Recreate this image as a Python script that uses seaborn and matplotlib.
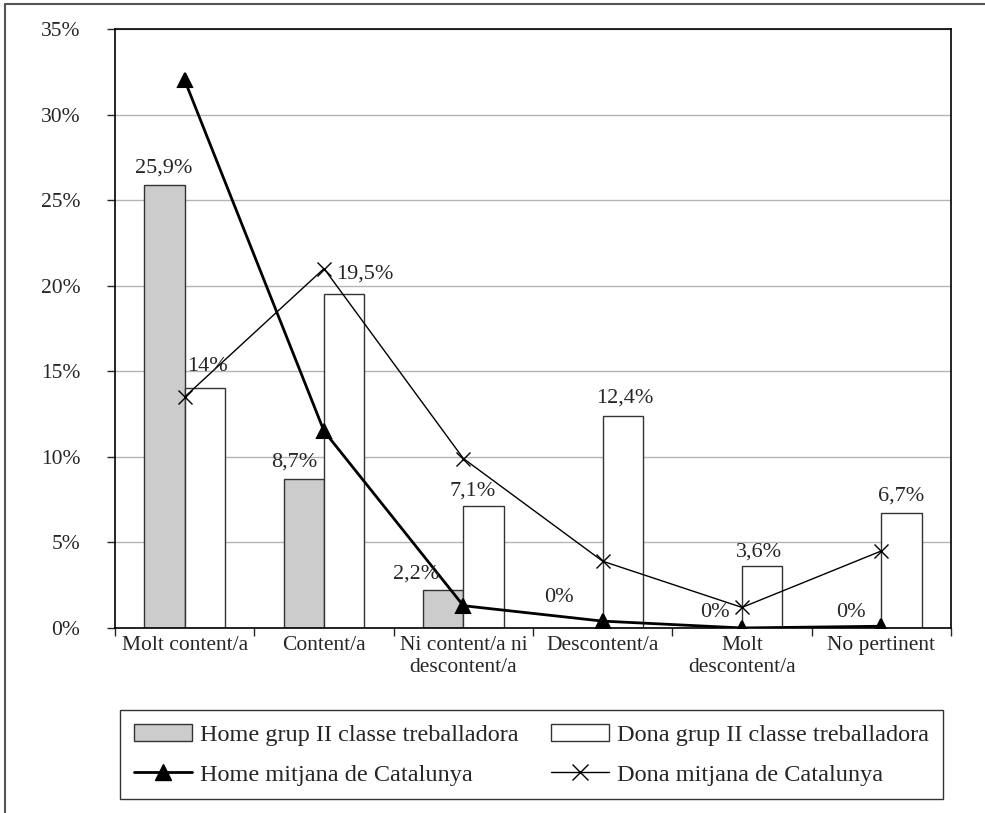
import numpy as np
import pandas as pd
import seaborn as sns
import matplotlib.pyplot as plt
from matplotlib.patches import Patch
from matplotlib.lines import Line2D

# Data (percentages)
categories = ["Molt content/a", "Content/a", "Ni content/a ni\ndescontent/a",
              "Descontent/a", "Molt\ndescontent/a", "No pertinent"]
home_grup = [25.9, 8.7, 2.2, 0.0, 0.0, 0.0]
dona_grup = [14.0, 19.5, 7.1, 12.4, 3.6, 6.7]
home_cat = [32.0, 11.5, 1.3, 0.4, 0.0, 0.1]
dona_cat = [13.5, 21.0, 9.9, 3.9, 1.2, 4.5]
series_names = ["Home grup II classe treballadora", "Dona grup II classe treballadora",
                "Home mitjana de Catalunya", "Dona mitjana de Catalunya"]

sns.set_style("white")
plt.rcParams['font.family'] = ['Liberation Serif', 'DejaVu Serif']
plt.rcParams['font.size'] = 15.5

bars = pd.DataFrame({
    'cat': categories * 2,
    'value': home_grup + dona_grup,
    'group': [series_names[0]] * 6 + [series_names[1]] * 6,
})

fig = plt.figure(figsize=(9.85, 8.13), dpi=100)
ax = fig.add_axes([0.1168, 0.2276, 0.8487, 0.7368])

sns.barplot(data=bars, x='cat', y='value', hue='group', order=categories,
            palette=['#cccccc', 'white'], width=0.58, gap=0, edgecolor='#333333',
            linewidth=1, ax=ax, legend=False, zorder=2)

sns.pointplot(x=categories, y=home_cat, order=categories, color='black', marker='^',
              markersize=10, linewidth=2.0, errorbar=None, ax=ax, zorder=4)
sns.pointplot(x=categories, y=dona_cat, order=categories, color='black', marker='x',
              markersize=10, markeredgewidth=1.0, linewidth=1.0, errorbar=None, ax=ax, zorder=3)

# value labels above the bars (pixel offsets, style only)
label_dx = [[-1, -10, -27, -24, -7, -10], [3, 21, -11, 2, -3, 0]]
label_dy = [[17, 17, 16, 30, 15, 15], [22, 20, 15, 18, 14, 17]]
for k, cont in enumerate(ax.containers[:2]):
    vals = home_grup if k == 0 else dona_grup
    for i, (rect, v) in enumerate(zip(cont.patches, vals)):
        txt = f"{v:g}".replace('.', ',') + '%'
        ax.annotate(txt, xy=(rect.get_x() + rect.get_width() / 2, v),
                    xytext=(label_dx[k][i] * 0.72, label_dy[k][i] * 0.72),
                    textcoords='offset points', ha='center', va='center',
                    fontsize=16, zorder=5)

ax.set_xlim(-0.5, 5.5)
ax.set_ylim(0, 35)
ax.set_yticks(np.arange(0, 36, 5))
ax.set_yticklabels([f"{t}%" for t in range(0, 36, 5)])
ax.set_xticks(np.arange(-0.5, 6, 1), minor=True)
ax.tick_params(axis='x', which='major', length=0, pad=6, labelsize=15.5)
ax.tick_params(axis='x', which='minor', length=6, width=1, direction='out', bottom=True)
ax.tick_params(axis='y', length=6, width=1, direction='out', left=True, pad=19, labelsize=15.5)
ax.set_xlabel('')
ax.set_ylabel('')
ax.yaxis.grid(True, color='#b4b4b4', linewidth=1)
ax.set_axisbelow(True)
for s in ax.spines.values():
    s.set_visible(True)
    s.set_color('black')
    s.set_linewidth(1.2)

handles = [
    Patch(facecolor='#cccccc', edgecolor='#333333', label=series_names[0]),
    Line2D([0], [0], color='black', lw=2.0, marker='^', markersize=11, label=series_names[2]),
    Patch(facecolor='white', edgecolor='#333333', label=series_names[1]),
    Line2D([0], [0], color='black', lw=1.0, marker='x', markersize=11, label=series_names[3]),
]
leg = fig.legend(handles=handles, ncol=2, loc='center', bbox_to_anchor=(0.5396, 0.0715),
                 frameon=True, fancybox=False, edgecolor='black', fontsize=17.5,
                 handlelength=2.4, handletextpad=0.35, columnspacing=1.3, labelspacing=0.75,
                 borderpad=0.55)
leg.get_frame().set_linewidth(1.0)

# outer frame of the figure (left and top edges)
fig.add_artist(Line2D([0.005, 0.005], [0, 0.995], color='#555555', lw=1.5))
fig.add_artist(Line2D([0.005, 1.0], [0.995, 0.995], color='#555555', lw=1.5))

fig.savefig('out.png', dpi=100)
